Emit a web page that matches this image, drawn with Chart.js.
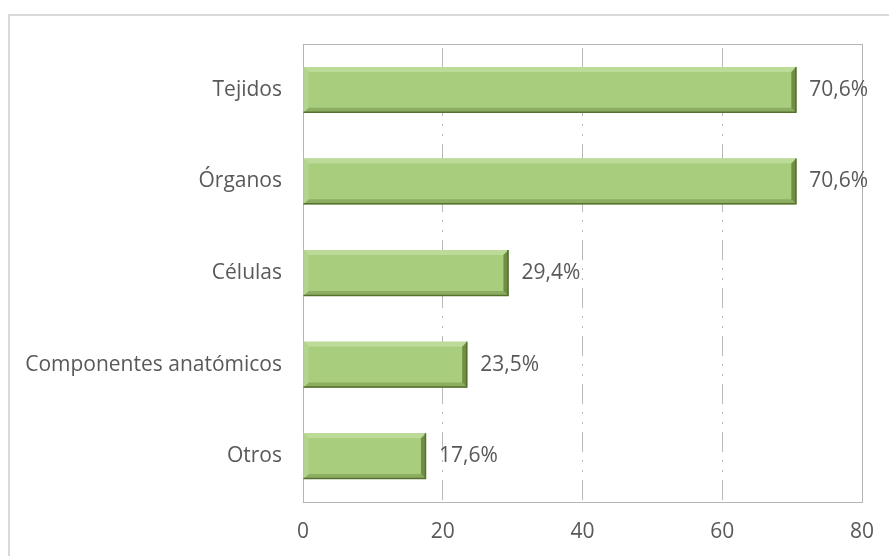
<!DOCTYPE html>
<html>
<head>
<meta charset="utf-8">
<script src="https://cdn.jsdelivr.net/npm/chart.js@4.4.1/dist/chart.umd.min.js"></script>
<style>
  html, body { margin: 0; padding: 0; background: #fff; overflow: hidden; }
  #frame { position: absolute; left: 8px; top: 14px; width: 1000px; height: 700px; border: 2px solid #d9d9d9; }
  #chart { position: absolute; left: 0; top: 0; }
</style>
</head>
<body>
<div id="frame"></div>
<canvas id="chart" width="889" height="556"></canvas>
<script>
// datos
const categories = ['Tejidos', 'Órganos', 'Células', 'Componentes anatómicos', 'Otros'];
const values = [70.6, 70.6, 29.4, 23.5, 17.6];
const xTicks = [0, 20, 40, 60, 80];

const textColor = '#595959';
const font = { family: 'Open Sans', size: 21 };

// marco del área de trazado
const plotBorder = {
  id: 'plotBorder',
  beforeDatasetsDraw(chart) {
    const { ctx, chartArea: a } = chart;
    ctx.save();
    ctx.strokeStyle = '#b4b4b4';
    ctx.lineWidth = 1;
    ctx.strokeRect(Math.round(a.left) + 0.5, Math.round(a.top) + 0.5,
      Math.round(a.right - a.left), Math.round(a.bottom - a.top));
    ctx.restore();
  }
};

// efecto bisel de las barras + etiquetas
const bevelBars = {
  id: 'bevelBars',
  afterDatasetsDraw(chart) {
    const ctx = chart.ctx;
    const meta = chart.getDatasetMeta(0);
    meta.data.forEach((bar, i) => {
      const p = bar.getProps(['x', 'y', 'base', 'height'], true);
      const x0 = p.base, x1 = p.x, y0 = p.y - p.height / 2, y1 = p.y + p.height / 2;
      const b = 5;
      const poly = (pts, color) => {
        ctx.beginPath();
        ctx.moveTo(pts[0][0], pts[0][1]);
        for (let k = 1; k < pts.length; k++) ctx.lineTo(pts[k][0], pts[k][1]);
        ctx.closePath();
        ctx.fillStyle = color;
        ctx.fill();
      };
      ctx.save();
      poly([[x0, y0], [x1, y0], [x1 - b, y0 + b], [x0 + b, y0 + b]], '#bcda98');
      poly([[x0, y1], [x1, y1], [x1 - b, y1 - b], [x0 + b, y1 - b]], '#8dad60');
      poly([[x0, y0], [x0 + b, y0 + b], [x0 + b, y1 - b], [x0, y1]], '#b3d48f');
      poly([[x1, y0], [x1 - b, y0 + b], [x1 - b, y1 - b], [x1, y1]], '#718e45');
      ctx.strokeStyle = '#55702f';
      ctx.lineWidth = 1.5;
      ctx.beginPath();
      ctx.moveTo(x0, y1 - 0.5);
      ctx.lineTo(x1 - 0.5, y1 - 0.5);
      ctx.lineTo(x1 - 0.5, y0);
      ctx.stroke();

      ctx.fillStyle = textColor;
      ctx.font = font.size + 'px "' + font.family + '"';
      ctx.textAlign = 'left';
      ctx.textBaseline = 'middle';
      ctx.fillText(values[i].toFixed(1).replace('.', ',') + '%', x1 + 13, p.y);
      ctx.restore();
    });
  }
};

new Chart(document.getElementById('chart'), {
  type: 'bar',
  data: {
    labels: categories,
    datasets: [{
      data: values,
      backgroundColor: '#a8cd7c',
      borderWidth: 0,
      barPercentage: 0.5,
      categoryPercentage: 1
    }]
  },
  options: {
    indexAxis: 'y',
    responsive: false,
    animation: false,
    layout: { padding: { top: 44, right: 27, left: 0, bottom: 0 } },
    plugins: {
      legend: { display: false },
      tooltip: { enabled: false }
    },
    scales: {
      x: {
        min: xTicks[0],
        max: xTicks[xTicks.length - 1],
        afterBuildTicks(scale) { scale.ticks = xTicks.map(v => ({ value: v })); },
        afterFit(scale) { scale.height = 54; scale.paddingLeft = 0; scale.paddingRight = 0; },
        ticks: { color: textColor, font: font, padding: 17 },
        grid: { color: '#b8b8b8', lineWidth: 1, drawTicks: false },
        border: { display: false, dash: [20, 8, 2, 8, 2, 8], dashOffset: 44 }
      },
      y: {
        afterFit(scale) { scale.width = 303; },
        ticks: { color: textColor, font: font, padding: 21 },
        grid: { display: false, drawTicks: false },
        border: { display: false }
      }
    }
  },
  plugins: [plotBorder, bevelBars]
});
</script>
</body>
</html>
